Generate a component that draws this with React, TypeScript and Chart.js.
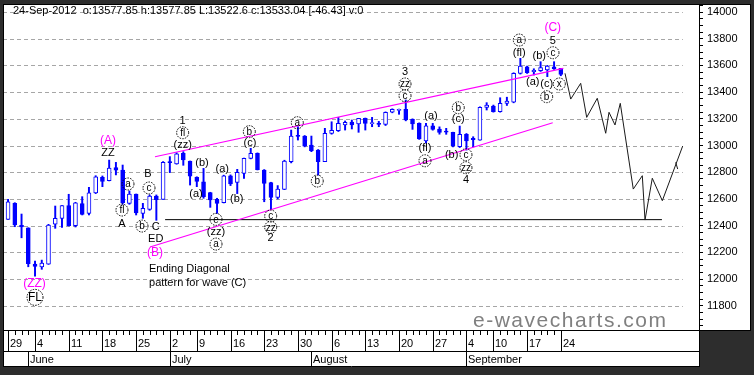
import React, { useEffect, useRef } from "react";
import { Chart, registerables } from "chart.js";

Chart.register(...registerables);

// ---------- DATA (DJIA daily candles, 29 May 2012 .. 24 Sep 2012; x = trading-day index) ----------
const OPEN = [
  12447, 12567, 12402, 12384,
  12112, 12090, 12112, 12412, 12455,
  12550, 12400, 12565, 12492, 12645,
  12762, 12737, 12834, 12817, 12567,
  12637, 12492, 12522, 12622, 12597,
  12880, 12862, 12942, 12884,
  12762, 12729, 12647, 12597, 12572,
  12774, 12724, 12792, 12904, 12942,
  12817, 12722, 12612, 12672, 12880,
  13076, 13071, 13004, 12966, 12879,
  13091, 13111, 13154, 13176, 13161,
  13204, 13164, 13166, 13159, 13249,
  13263, 13271, 13196, 13166, 13034,
  13148, 13124, 13108, 13099, 12991,
  13084, 13054, 13041, 13286,
  13296, 13253, 13316, 13324, 13541,
  13590, 13553, 13560, 13566, 13590,
  13577.85,
];
const HIGH = [
  12597, 12572, 12487, 12384,
  12135, 12142, 12410, 12547, 12550,
  12635, 12575, 12617, 12687, 12774,
  12772, 12891, 12874, 12854, 12660,
  12637, 12567, 12630, 12630, 12880,
  12917, 12946, 12954, 12884,
  12766, 12829, 12650, 12605, 12778,
  12780, 12822, 12906, 12979, 12945,
  12820, 12725, 12700, 12890, 13116,
  13141, 13075, 13071, 12970, 13129,
  13178, 13211, 13184, 13191, 13204,
  13206, 13211, 13181, 13252, 13275,
  13273, 13341, 13200, 13170, 13166,
  13166, 13140, 13129, 13100, 13146,
  13090, 13066, 13290, 13321,
  13303, 13358, 13362, 13545, 13653,
  13595, 13575, 13628, 13600, 13628,
  13577.85,
];
const LOW = [
  12447, 12392, 12309, 12092,
  12022, 12073, 12110, 12380, 12387,
  12397, 12390, 12480, 12480, 12640,
  12692, 12735, 12780, 12560, 12560,
  12480, 12455, 12515, 12440, 12597,
  12797, 12860, 12852, 12704,
  12692, 12605, 12537, 12492, 12570,
  12700, 12640, 12754, 12900, 12817,
  12579, 12520, 12600, 12670, 12870,
  13041, 12990, 12954, 12779, 12879,
  13085, 13105, 13116, 13124, 13099,
  13116, 13141, 13141, 13150, 13245,
  13234, 13185, 13121, 13046, 13020,
  13115, 13085, 13084, 12990, 12985,
  12966, 12990, 13040, 13266,
  13250, 13250, 13300, 13320, 13535,
  13540, 13528, 13555, 13516, 13570,
  13522.6,
];
const CLOSE = [
  12579, 12405, 12390, 12115,
  12095, 12120, 12405, 12455, 12550,
  12400, 12570, 12485, 12645, 12765,
  12732, 12832, 12815, 12572, 12637,
  12495, 12530, 12622, 12595, 12874,
  12872, 12938, 12892, 12770,
  12732, 12617, 12592, 12567, 12774,
  12712, 12799, 12904, 12942, 12820,
  12717, 12612, 12674, 12884, 13071,
  13068, 12996, 12961, 12879, 13091,
  13114, 13166, 13174, 13154, 13204,
  13166, 13172, 13159, 13249, 13271,
  13271, 13191, 13161, 13050, 13148,
  13121, 13099, 13100, 12998, 13084,
  13034, 13044, 13286, 13303,
  13253, 13316, 13333, 13541, 13596,
  13545, 13563, 13583, 13596, 13573,
  13533.04,
];

// date axis
const WEEK_LABELS = ["29", "4", "11", "18", "25", "2", "9", "16", "23", "30", "6", "13", "20", "27", "4", "10", "17", "24"];
const WEEK_IDX = [0, 4, 9, 14, 19, 24, 28, 33, 38, 43, 48, 53, 58, 63, 68, 72, 77, 82];
const MONTH_LABELS = ["June", "July", "August", "September"];
const MONTH_IDX = [3, 24, 45, 68];

// price axis
const PRICE_LABELS = [11800, 12000, 12200, 12400, 12600, 12800, 13000, 13200, 13400, 13600, 13800, 14000];
const Y_MIN = 11611;
const Y_MAX = 14060;
const X_MIN = -0.75;
const X_MAX = 102.5;
const GRID_END = 100.1;

// projected path (black)
const PROJ_X = [82.62, 83.47, 84.95, 85.84, 87.41, 88.66, 89.15, 90.04, 90.82, 92.75, 94.09, 94.49, 95.57, 97.06, 100.08];
const PROJ_Y = [13541, 13348, 13466, 13211, 13354, 13092, 13249, 13154, 13316, 12674, 12774, 12442, 12755, 12587, 12996];
const HOOK_X = [99.04, 99.34];
const HOOK_Y = [12874, 12824];

// horizontal support line
const SUPPORT_X = [23.3, 97.0];
const SUPPORT_Y = [12445, 12445];

// ending-diagonal channel (magenta)
const UPPER_X = [21.8, 82.37];
const UPPER_Y = [12916, 13578];
const LOWER_X = [21.06, 80.8];
const LOWER_Y = [12240, 13171];

// wave labels: t = plain, c = circled, C = large circle, m = magenta, l = left-aligned note
const WAVE_TEXT = ["(A)", "ZZ", "B", "c", "a", "fl", "A", "b", "C", "ED", "(B)", "Ending Diagonal", "pattern for wave (C)", "(ZZ)", "FL",
  "1", "fl", "(zz)", "(b)", "(a)", "(a)", "(b)", "b", "(c)", "e", "(zz)", "a", "c", "zz", "2", "a", "b",
  "3", "zz", "c", "(a)", "b", "(c)", "(fl)", "a", "(b)", "c", "zz", "4",
  "a", "(fl)", "(C)", "5", "c", "(b)", "(a)", "(c)", "b", "x"];
const WAVE_X = [14.82, 14.82, 20.76, 20.91, 17.79, 16.9, 16.9, 19.87, 21.9, 21.9, 21.8, 20.91, 20.91, 3.92, 4.0,
  25.9, 25.9, 25.9, 28.77, 27.88, 31.78, 33.92, 35.79, 35.89, 30.85, 30.85, 30.85, 38.96, 38.96, 38.96, 42.91, 45.87,
  58.89, 58.89, 58.89, 62.74, 66.79, 66.79, 61.85, 61.85, 65.81, 67.93, 67.93, 67.93,
  75.84, 75.84, 80.8, 80.8, 80.84, 78.81, 77.83, 79.9, 79.9, 81.78];
const WAVE_Y = [13034, 12944, 12787, 12682, 12712, 12517, 12412, 12397, 12392, 12300, 12195, 12075, 11967, 11968, 11863,
  13186, 13096, 13002, 12871, 12637, 12822, 12597, 13104, 13019, 12447, 12350, 12262, 12472, 12388, 12305, 13171, 12734,
  13553, 13461, 13373, 13221, 13283, 13196, 12984, 12886, 12931, 12931, 12834, 12742,
  13790, 13695, 13882, 13785, 13695, 13670, 13478, 13461, 13366, 13461];
const WAVE_KIND = ["m", "t", "t", "c", "c", "c", "t", "c", "t", "t", "m", "l", "l", "m", "C",
  "t", "c", "t", "t", "t", "t", "t", "c", "t", "c", "t", "c", "c", "c", "t", "c", "c",
  "t", "c", "c", "t", "c", "t", "t", "c", "t", "c", "c", "t",
  "c", "t", "m", "t", "c", "t", "t", "t", "c", "c"];

const TITLE = "24-Sep-2012  o:13577.85 h:13577.85 L:13522.6 c:13533.04 [-46.43] v:0";
const WATERMARK = "e-wavecharts.com";

const FONT = "'Liberation Sans', Arial, Helvetica, sans-serif";

export default function App() {
  const ref = useRef<HTMLCanvasElement>(null);

  useEffect(() => {
    const canvas = ref.current;
    if (!canvas) return;
    const idx = OPEN.map((_, i) => i);
    const bodies = idx.map((i) => ({ x: i, y: [OPEN[i], CLOSE[i]] }));
    const wicks = idx.map((i) => ({ x: i, y: [LOW[i], HIGH[i]] }));
    const bodyFill = idx.map((i) => (CLOSE[i] >= OPEN[i] ? "#ffffff" : "#0000ff"));
    const pts = (xs: number[], ys: number[]) => xs.map((x, k) => ({ x, y: ys[k] }));

    const deco = {
      id: "deco",
      beforeDraw(chart: any) {
        const { ctx, chartArea: a, scales } = chart;
        const xs = scales.x;
        const ys = scales.y;
        const W = chart.width;
        const H = chart.height;
        ctx.save();
        ctx.fillStyle = "#2d2d2d";
        ctx.fillRect(0, 0, W, H);
        ctx.fillStyle = "#ffffff";
        ctx.fillRect(a.left, a.top, W - 3 - a.left, a.bottom - a.top);
        ctx.fillRect(a.left, a.bottom, a.right - a.left, 36);
        // dashed grid
        ctx.strokeStyle = "#a6a6a6";
        ctx.lineWidth = 1;
        ctx.setLineDash([4, 3]);
        const gx = xs.getPixelForValue(GRID_END);
        PRICE_LABELS.forEach((v) => {
          const y = Math.round(ys.getPixelForValue(v)) + 0.5;
          ctx.beginPath();
          ctx.moveTo(a.left, y);
          ctx.lineTo(gx, y);
          ctx.stroke();
        });
        ctx.setLineDash([]);
        // title
        ctx.fillStyle = "#000";
        ctx.font = `11px ${FONT}`;
        ctx.textAlign = "left";
        ctx.textBaseline = "middle";
        ctx.fillText(TITLE, a.left + 10, a.top + 7);
        // watermark
        ctx.fillStyle = "#808080";
        ctx.font = `21px ${FONT}`;
        (ctx as any).letterSpacing = "1.5px";
        ctx.fillText(WATERMARK, a.right - 226, a.bottom - 10);
        (ctx as any).letterSpacing = "0px";
        ctx.restore();
      },
      afterDatasetsDraw(chart: any) {
        const { ctx, scales } = chart;
        const xs = scales.x;
        const ys = scales.y;
        ctx.save();
        ctx.textBaseline = "middle";
        WAVE_TEXT.forEach((t, k) => {
          const x = xs.getPixelForValue(WAVE_X[k]);
          const y = ys.getPixelForValue(WAVE_Y[k]);
          const kind = WAVE_KIND[k];
          ctx.textAlign = "center";
          if (kind === "m") {
            ctx.fillStyle = "#ff00ff";
            ctx.font = `12px ${FONT}`;
            ctx.fillText(t, x, y);
          } else if (kind === "l") {
            ctx.fillStyle = "#000";
            ctx.font = `11px ${FONT}`;
            ctx.textAlign = "left";
            ctx.fillText(t, x, y);
          } else if (kind === "c" || kind === "C") {
            const r = kind === "C" ? 8 : 6;
            ctx.strokeStyle = "#000";
            ctx.lineWidth = 1;
            ctx.setLineDash([1.5, 1.2]);
            ctx.beginPath();
            ctx.arc(x, y, r, 0, Math.PI * 2);
            ctx.stroke();
            ctx.setLineDash([]);
            ctx.fillStyle = "#000";
            ctx.font = kind === "C" ? `12px ${FONT}` : `10px ${FONT}`;
            ctx.fillText(t, x, y + 0.5);
          } else {
            ctx.fillStyle = "#000";
            ctx.font = `11px ${FONT}`;
            ctx.fillText(t, x, y);
          }
        });
        ctx.restore();
      },
      afterDraw(chart: any) {
        const { ctx, chartArea: a, scales } = chart;
        const xs = scales.x;
        const W = chart.width;
        const top = a.bottom;
        const mid = a.bottom + 20;
        const bot = a.bottom + 36;
        ctx.save();
        ctx.strokeStyle = "#000";
        ctx.lineWidth = 1;
        const hl = (x1: number, x2: number, y: number) => {
          ctx.beginPath();
          ctx.moveTo(x1, y);
          ctx.lineTo(x2, y);
          ctx.stroke();
        };
        const vl = (x: number, y1: number, y2: number) => {
          ctx.beginPath();
          ctx.moveTo(x, y1);
          ctx.lineTo(x, y2);
          ctx.stroke();
        };
        // panel borders
        hl(a.left, W - 3, a.top + 0.5);
        vl(a.left + 0.5, a.top, bot);
        hl(a.left, W - 3, top - 0.5);
        hl(a.left, a.right, mid + 0.5);
        hl(a.left, a.right + 1, bot - 0.5);
        vl(a.right + 0.5, top, bot);
        vl(W - 3.5, a.top, top);
        // day ticks
        OPEN.forEach((_, i) => {
          const x = Math.round(xs.getPixelForValue(i)) + 0.5;
          vl(x, top, top + 4);
        });
        ctx.fillStyle = "#000";
        ctx.font = `11px ${FONT}`;
        ctx.textAlign = "left";
        ctx.textBaseline = "middle";
        WEEK_IDX.forEach((d, k) => {
          const x = Math.round(xs.getPixelForValue(d)) + 0.5;
          vl(x, top, mid);
          ctx.fillText(WEEK_LABELS[k], x + 1.5, top + 12.5);
        });
        MONTH_IDX.forEach((d, k) => {
          const x = Math.round(xs.getPixelForValue(d)) + 0.5;
          vl(x, mid, bot);
          ctx.fillText(MONTH_LABELS[k], x + 1.5, mid + 8.5);
        });
        ctx.restore();
      },
    };

    const chart = new Chart(canvas, {
      type: "bar",
      data: {
        datasets: [
          { type: "line", data: pts(PROJ_X, PROJ_Y), borderColor: "#1a1a1a", borderWidth: 1, pointRadius: 0, tension: 0, order: 1 } as any,
          { type: "line", data: pts(HOOK_X, HOOK_Y), borderColor: "#1a1a1a", borderWidth: 1, pointRadius: 0, order: 1 } as any,
          { type: "line", data: pts(UPPER_X, UPPER_Y), borderColor: "#ff00ff", borderWidth: 1.2, pointRadius: 0, order: 2 } as any,
          { type: "line", data: pts(LOWER_X, LOWER_Y), borderColor: "#ff00ff", borderWidth: 1.2, pointRadius: 0, order: 2 } as any,
          { type: "line", data: pts(SUPPORT_X, SUPPORT_Y), borderColor: "#000000", borderWidth: 1, pointRadius: 0, order: 3 } as any,
          {
            type: "bar", data: bodies, backgroundColor: bodyFill, borderColor: "#0000ff", borderWidth: 1,
            borderSkipped: false, barThickness: 4, maxBarThickness: 4, grouped: false, order: 4,
          } as any,
          {
            type: "bar", data: wicks, backgroundColor: "#0000ff", borderWidth: 0,
            barThickness: 1.3, maxBarThickness: 1.3, grouped: false, order: 5,
          } as any,
        ],
      },
      options: {
        responsive: false,
        animation: false,
        devicePixelRatio: 1,
        events: [],
        layout: { padding: { left: 3, top: 4, right: 3, bottom: 44 } },
        plugins: { legend: { display: false }, tooltip: { enabled: false }, title: { display: false } },
        scales: {
          x: { type: "linear", min: X_MIN, max: X_MAX, display: false, offset: false, grid: { display: false } },
          y: {
            type: "linear",
            position: "right",
            min: Y_MIN,
            max: Y_MAX,
            bounds: "data",
            afterBuildTicks: (s: any) => {
              const t: any[] = [];
              for (let v = 11650; v <= 14050; v += 50) t.push({ value: v });
              s.ticks = t;
            },
            afterFit: (s: any) => {
              s.width = 52;
              s.paddingTop = 0;
              s.paddingBottom = 0;
            },
            ticks: {
              autoSkip: false,
              color: "#000",
              padding: 4,
              font: { size: 11, family: FONT },
              callback: (v: any) => (PRICE_LABELS.includes(Number(v)) ? String(v) : ""),
            },
            grid: { drawOnChartArea: false, drawTicks: true, tickLength: 4, color: "#000", tickColor: "#000" },
            border: { display: true, color: "#000", width: 1 },
          },
        },
      } as any,
      plugins: [deco],
    });
    return () => chart.destroy();
  }, []);

  return (
    <div style={{ position: "absolute", left: 0, top: 0, width: 754, height: 375 }}>
      <canvas ref={ref} width={754} height={375} style={{ display: "block", width: 754, height: 375 }} />
    </div>
  );
}
